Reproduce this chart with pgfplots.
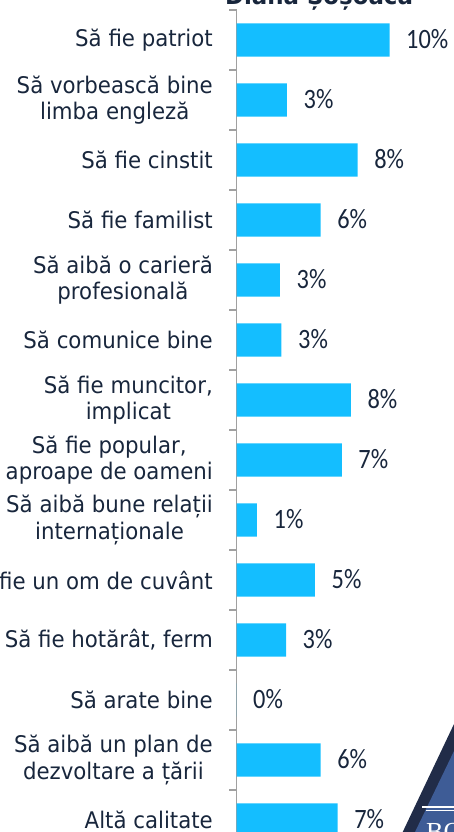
\documentclass[border=0pt]{standalone}
\usepackage{pgfplots}
\pgfplotsset{compat=1.18}
\usepackage{pgfplotstable}
\usepackage{fontspec}
\setmainfont{DejaVu Sans}[FakeStretch=0.93]
\newfontfamily\numfont{Carlito}[FakeStretch=0.87]
\newfontfamily\logofont{Liberation Serif}
\definecolor{barc}{RGB}{20,190,255}
\definecolor{txt}{RGB}{24,38,60}
\definecolor{axc}{RGB}{160,160,160}
\definecolor{navy}{RGB}{33,44,72}
\definecolor{logob}{RGB}{62,92,150}

\pgfplotstableread[col sep=comma]{
idx,val,lab
0,10.1,10
1,3.33,3
2,7.99,8
3,5.55,6
4,2.87,3
5,2.97,3
6,7.55,8
7,6.95,7
8,1.35,1
9,5.18,5
10,3.27,3
11,0,0
12,5.55,6
13,6.67,7
}\data

\begin{document}
\begin{tikzpicture}
\useasboundingbox (0,0) rectangle (454pt,-832pt);
\clip (0,0) rectangle (454pt,-832pt);
\node[anchor=base, text=txt, inner sep=0pt, font=\bfseries\fontsize{24.6}{28}\selectfont] at (319pt,-5pt) {Diana Șoșoacă};
\begin{axis}[
  at={(236.5pt,-10pt)}, anchor=north west,
  scale only axis, width=212.1pt, height=840pt,
  xmin=0, xmax=14, ymin=-0.5, ymax=13.5, y dir=reverse,
  xbar, bar width=33.3pt, bar shift=0pt,
  axis x line=none, axis y line*=left,
  axis line style={-, draw=axc, line width=1.2pt},
  ytick={-0.5,0.5,1.5,2.5,3.5,4.5,5.5,6.5,7.5,8.5,9.5,10.5,11.5,12.5,13.5},
  yticklabels={},
  major tick length=7pt, tick align=outside,
  ytick style={draw=axc, line width=1.2pt},
  clip=false,
  point meta=explicit symbolic,
  nodes near coords={\pgfplotspointmeta\%},
  every node near coord/.append style={anchor=base west, inner sep=0pt, xshift=16.5pt, yshift=-8.85pt, text=txt, font=\numfont\fontsize{28}{30}\selectfont},
]
\addplot[fill=barc, draw=none] table[x=val, y=idx, meta=lab] {\data};
\begin{scope}[every node/.style={anchor=east, inner sep=0pt, xshift=-23.5pt, align=center, text=txt, font=\fontsize{22.9}{26.5}\selectfont}]
\node at (axis cs:0,0) {Să fie patriot};
\node at (axis cs:0,1) {Să vorbească bine\\limba engleză};
\node at (axis cs:0,2) {Să fie cinstit};
\node at (axis cs:0,3) {Să fie familist};
\node at (axis cs:0,4) {Să aibă o carieră\\profesională};
\node at (axis cs:0,5) {Să comunice bine};
\node at (axis cs:0,6) {Să fie muncitor,\\implicat};
\node at (axis cs:0,7) {Să fie popular,\\aproape de oameni};
\node at (axis cs:0,8) {Să aibă bune relații\\internaționale};
\node at (axis cs:0,9) {Să fie un om de cuvânt};
\node at (axis cs:0,10) {Să fie hotărât, ferm};
\node at (axis cs:0,11) {Să arate bine};
\node at (axis cs:0,12) {Să aibă un plan de\\dezvoltare a țării};
\node at (axis cs:0,13) {Altă calitate};
\end{scope}
\end{axis}
% logo fragment
\fill[navy] (402.7pt,-832pt) -- (454pt,-724pt) -- (454pt,-832pt) -- cycle;
\fill[logob] (415pt,-832pt) -- (454pt,-751pt) -- (454pt,-832pt) -- cycle;
\fill[white] (422pt,-806pt) rectangle (454pt,-808pt);
\fill[white] (426pt,-810pt) rectangle (454pt,-811pt);
\node[anchor=base west, inner sep=0pt, text=white, font=\logofont\fontsize{26}{28}\selectfont] at (426pt,-840pt) {BO};
\end{tikzpicture}
\end{document}
